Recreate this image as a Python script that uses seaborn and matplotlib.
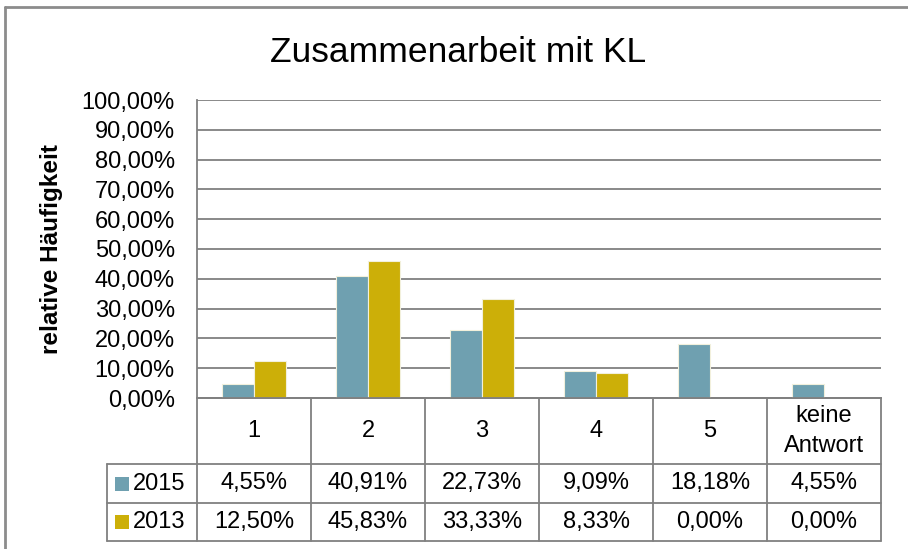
import matplotlib
matplotlib.use("Agg")
import matplotlib.pyplot as plt
import matplotlib.transforms as mtransforms
from matplotlib.lines import Line2D
from matplotlib.patches import Rectangle
import pandas as pd
import seaborn as sns

# Antwortkategorien und relative Häufigkeiten (in %)
categories = ["1", "2", "3", "4", "5", "keine\nAntwort"]
values_2015 = [4.55, 40.91, 22.73, 9.09, 18.18, 4.55]
values_2013 = [12.50, 45.83, 33.33, 8.33, 0.00, 0.00]
series = ["2015", "2013"]
colors = {"2015": "#6FA0B0", "2013": "#CCAF08"}

title = "Zusammenarbeit mit KL"
ylabel = "relative Häufigkeit"
yticks = list(range(0, 101, 10))

sns.set_theme(style="white")
plt.rcParams["font.family"] = ["Liberation Sans", "DejaVu Sans"]
plt.rcParams.update({"text.color": "black", "axes.labelcolor": "black",
                     "xtick.color": "black", "ytick.color": "black"})

df = pd.DataFrame({
    "Kategorie": categories * 2,
    "Jahr": ["2015"] * len(categories) + ["2013"] * len(categories),
    "Wert": values_2015 + values_2013,
})

W, H = 908, 549
fig = plt.figure(figsize=(W / 100, H / 100), dpi=100)
fig.patch.set_facecolor("white")

# Plotbereich in Pixeln
x0, x1, ytop, ybot = 197, 881, 100, 398
ax = fig.add_axes([x0 / W, 1 - ybot / H, (x1 - x0) / W, (ybot - ytop) / H])

grid_col = "#808080"
sns.barplot(data=df, x="Kategorie", y="Wert", hue="Jahr", hue_order=series,
            order=categories, palette=colors, saturation=1, width=0.56, gap=0,
            edgecolor="#F2F0DC", linewidth=0.8, legend=False, ax=ax, zorder=3)

ax.set_ylim(0, 100)
ax.set_xlim(-0.5, len(categories) - 0.5)
ax.set_yticks(yticks)
ax.set_yticklabels([f"{v:.2f}".replace(".", ",") + "%" for v in yticks], fontsize=17)
ax.tick_params(axis="y", length=0, pad=16)
ax.tick_params(axis="x", length=0, labelbottom=False)
ax.set_xlabel("")
ax.set_ylabel(ylabel, fontsize=17.5, fontweight="bold", labelpad=13)
ax.yaxis.grid(True, color=grid_col, linewidth=1.3, zorder=0)
ax.set_axisbelow(True)
for side in ["top", "right"]:
    ax.spines[side].set_visible(False)
for side in ["left", "bottom"]:
    ax.spines[side].set_color(grid_col)
    ax.spines[side].set_linewidth(1.3)

fig.text(458 / W, 1 - 52 / H, title, ha="center", va="center", fontsize=25.5)

# Datentabelle unter dem Diagramm (Pixelkoordinaten der Figur)
px = mtransforms.Affine2D().scale(1, -1).translate(0, H)
col_w = (x1 - x0) / len(categories)
row_head = (398, 464)
row_2015 = (464, 503)
row_2013 = (503, 541)
lab_x0 = 107


def hline(xa, xb, y):
    fig.add_artist(Line2D([xa, xb], [y, y], transform=px, color=grid_col, lw=1.3))


def vline(x, ya, yb):
    fig.add_artist(Line2D([x, x], [ya, yb], transform=px, color=grid_col, lw=1.3))


hline(x0, x1, row_head[0])
hline(lab_x0, x1, row_2015[0])
hline(lab_x0, x1, row_2013[0])
hline(lab_x0, x1, row_2013[1])
vline(lab_x0, row_2015[0], row_2013[1])
for i in range(len(categories) + 1):
    vline(x0 + i * col_w, row_head[0], row_2013[1])

for i, cat in enumerate(categories):
    cx = x0 + (i + 0.5) * col_w
    fig.text(cx / W, 1 - sum(row_head) / 2 / H, cat, ha="center", va="center",
             fontsize=17, linespacing=1.45)
    for (ya, yb), vals in ((row_2015, values_2015), (row_2013, values_2013)):
        fig.text(cx / W, 1 - (ya + yb) / 2 / H, f"{vals[i]:.2f}".replace(".", ",") + "%",
                 ha="center", va="center", fontsize=17)

for (ya, yb), name in ((row_2015, "2015"), (row_2013, "2013")):
    yc = (ya + yb) / 2
    fig.add_artist(Rectangle((115, yc - 7), 14, 14, transform=px,
                             facecolor=colors[name], edgecolor="none"))
    fig.text(133 / W, 1 - yc / H, name, ha="left", va="center", fontsize=17)

# Rahmen des Diagramms
fig.add_artist(Line2D([5, 5], [7, H], transform=px, color="#8C8C8C", lw=2))
fig.add_artist(Line2D([5, W], [7, 7], transform=px, color="#8C8C8C", lw=2))

fig.savefig("out.png", dpi=100, facecolor="white")
